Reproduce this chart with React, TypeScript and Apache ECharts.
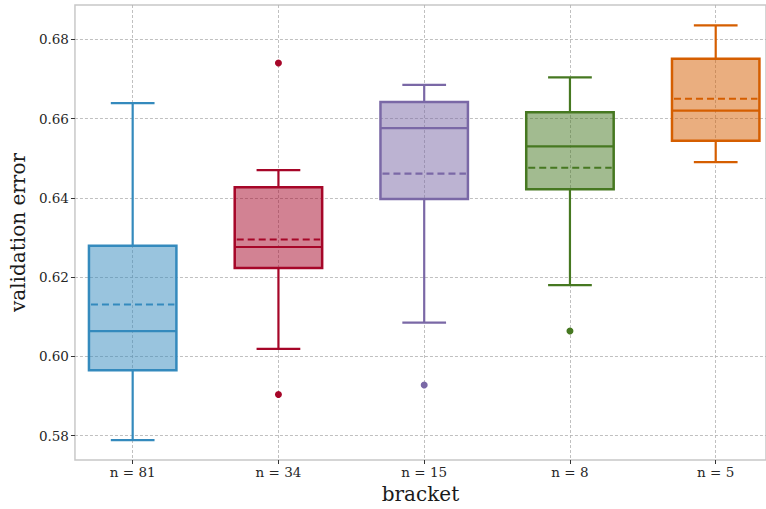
import React, { useEffect, useRef } from "react";
import * as echarts from "echarts";

const categories = ["n = 81", "n = 34", "n = 15", "n = 8", "n = 5"];
const positions = [1, 2, 3, 4, 5];
const colors = ["#348ABD", "#A60628", "#7A68A6", "#467821", "#D55E00"];
const whiskerLow = [0.5789, 0.6019, 0.6085, 0.618, 0.649];
const q1 = [0.5965, 0.6223, 0.6397, 0.6422, 0.6544];
const median = [0.6064, 0.6276, 0.6576, 0.653, 0.662];
const q3 = [0.6279, 0.6427, 0.6642, 0.6616, 0.6751];
const whiskerHigh = [0.6639, 0.647, 0.6685, 0.6704, 0.6835];
const means = [0.6131, 0.6295, 0.6461, 0.6476, 0.665];
const outlierPos = [2, 2, 3, 4];
const outlierVal = [0.674, 0.5904, 0.5928, 0.6064];
const yTicks = [0.58, 0.6, 0.62, 0.64, 0.66, 0.68];

const FONT = "DejaVu Serif";

export default function App() {
  const ref = useRef<HTMLDivElement>(null);
  useEffect(() => {
    if (!ref.current) return;
    const chart = echarts.init(ref.current, null, { renderer: "svg" });
    const boxData = positions.map((p, i) => [
      p,
      whiskerLow[i],
      q1[i],
      median[i],
      q3[i],
      whiskerHigh[i],
      means[i],
      i,
    ]);
    const option: any = {
      animation: false,
      backgroundColor: "#ffffff",
      grid: {
        left: 74,
        right: -2,
        top: 5,
        bottom: 48,
        show: true,
        borderColor: "#c8c8c8",
        borderWidth: 1.5,
        backgroundColor: "transparent",
      },
      xAxis: {
        type: "value",
        min: 0.604,
        max: 5.345,
        name: "bracket",
        nameLocation: "middle",
        nameGap: 24,
        nameTextStyle: { fontFamily: FONT, fontSize: 20, color: "#1a1a1a" },
        axisLine: { show: false },
        axisTick: {
          show: true,
          customValues: positions,
          length: 4,
          inside: false,
          lineStyle: { color: "#333333", width: 1 },
        },
        axisLabel: {
          customValues: positions,
          margin: 5,
          fontFamily: FONT,
          fontSize: 13.5,
          color: "#262626",
          formatter: (v: number) => categories[Math.round(v) - 1] ?? "",
        },
        splitLine: {
          show: true,
          lineStyle: { color: "#b0b0b0", type: [3, 2], width: 0.8 },
        },
      },
      yAxis: {
        type: "value",
        min: 0.57387,
        max: 0.68865,
        name: "validation error",
        nameLocation: "middle",
        nameGap: 38,
        nameTextStyle: { fontFamily: FONT, fontSize: 20, color: "#1a1a1a" },
        axisLine: { show: false },
        axisTick: {
          show: true,
          customValues: yTicks,
          length: 4,
          inside: false,
          lineStyle: { color: "#333333", width: 1 },
        },
        axisLabel: {
          customValues: yTicks,
          margin: 6,
          fontFamily: FONT,
          fontSize: 13.5,
          color: "#262626",
          formatter: (v: number) => v.toFixed(2),
        },
        splitLine: {
          show: true,
          lineStyle: { color: "#b0b0b0", type: [3, 2], width: 0.8 },
        },
      },
      series: [
        {
          type: "custom",
          data: boxData,
          z: 5,
          renderItem: (params: any, api: any) => {
            const x = api.value(0);
            const idx = api.value(7);
            const c = colors[idx];
            const pLow = api.coord([x, api.value(1)]);
            const pQ1 = api.coord([x, api.value(2)]);
            const pMed = api.coord([x, api.value(3)]);
            const pQ3 = api.coord([x, api.value(4)]);
            const pHigh = api.coord([x, api.value(5)]);
            const pMean = api.coord([x, api.value(6)]);
            const halfW = api.size([0.3, 0])[0];
            const capW = api.size([0.15, 0])[0];
            const cx = pLow[0];
            const lw = 2.2;
            const fill = echarts.color.modifyAlpha(c, 0.5);
            return {
              type: "group",
              children: [
                {
                  type: "line",
                  shape: { x1: cx, y1: pQ1[1], x2: cx, y2: pLow[1] },
                  style: { stroke: c, lineWidth: lw },
                },
                {
                  type: "line",
                  shape: { x1: cx, y1: pQ3[1], x2: cx, y2: pHigh[1] },
                  style: { stroke: c, lineWidth: lw },
                },
                {
                  type: "line",
                  shape: { x1: cx - capW, y1: pLow[1], x2: cx + capW, y2: pLow[1] },
                  style: { stroke: c, lineWidth: lw },
                },
                {
                  type: "line",
                  shape: { x1: cx - capW, y1: pHigh[1], x2: cx + capW, y2: pHigh[1] },
                  style: { stroke: c, lineWidth: lw },
                },
                {
                  type: "rect",
                  shape: {
                    x: cx - halfW,
                    y: pQ3[1],
                    width: halfW * 2,
                    height: pQ1[1] - pQ3[1],
                  },
                  style: { fill, stroke: c, lineWidth: 2.5 },
                },
                {
                  type: "line",
                  shape: { x1: cx - halfW, y1: pMed[1], x2: cx + halfW, y2: pMed[1] },
                  style: { stroke: c, lineWidth: lw },
                },
                {
                  type: "line",
                  shape: { x1: cx - halfW + 2, y1: pMean[1], x2: cx + halfW - 2, y2: pMean[1] },
                  style: { stroke: c, lineWidth: lw, lineDash: [7, 4] },
                },
              ],
            };
          },
        },
        {
          type: "scatter",
          z: 6,
          symbol: "circle",
          symbolSize: 7,
          itemStyle: { opacity: 1 },
          data: outlierPos.map((p, i) => ({
            value: [p, outlierVal[i]],
            itemStyle: { color: colors[p - 1], opacity: 1 },
          })),
        },
      ],
    };
    chart.setOption(option);
    return () => chart.dispose();
  }, []);
  return (
    <div
      ref={ref}
      style={{ position: "fixed", left: 0, top: 0, width: 766, height: 509, background: "#fff" }}
    />
  );
}
